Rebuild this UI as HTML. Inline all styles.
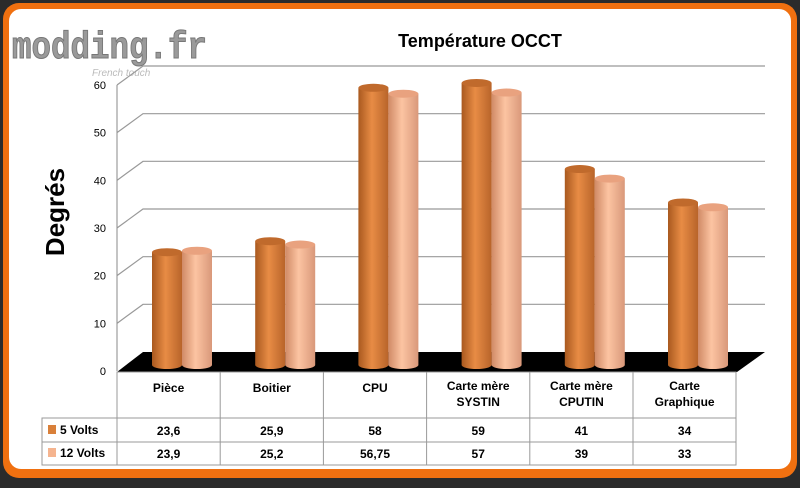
<!DOCTYPE html>
<html><head><meta charset="utf-8"><style>
body{margin:0;background:#2b2b2b;width:800px;height:483px;overflow:hidden;font-family:"Liberation Sans",sans-serif}
</style></head><body>
<svg width="800" height="483" xmlns="http://www.w3.org/2000/svg">
<defs>
<linearGradient id="g5" x1="0" x2="1"><stop offset="0" stop-color="#a9591f"/><stop offset="0.45" stop-color="#e88c45"/><stop offset="1" stop-color="#b8642a"/></linearGradient>
<linearGradient id="g12" x1="0" x2="1"><stop offset="0" stop-color="#d08a66"/><stop offset="0.45" stop-color="#fcc4a2"/><stop offset="1" stop-color="#d9987a"/></linearGradient>
</defs>
<rect x="3" y="3" width="794" height="475" rx="16" fill="#f07010"/>
<rect x="9" y="9" width="782" height="460" rx="12" fill="#ffffff"/>
<text x="12" y="58" font-size="38" font-weight="bold" fill="#9a9a9a" stroke="#777" stroke-width="1" font-family="Liberation Mono,monospace" textLength="195" lengthAdjust="spacingAndGlyphs">modding.fr</text>
<text x="92" y="76" font-size="10" font-style="italic" fill="#bbb">French touch</text>
<text x="480" y="47" font-size="18" font-weight="bold" text-anchor="middle" fill="#000">Température OCCT</text>
<text transform="translate(64,212) rotate(-90)" font-size="26" font-weight="bold" text-anchor="middle" fill="#000">Degrés</text>
<g id="grid"></g>
<g id="bars"></g>
<g id="table"></g>
</svg>
<script>
const categories=["Pièce","Boitier","CPU","Carte mère|SYSTIN","Carte mère|CPUTIN","Carte|Graphique"];
const series5=[23.6,25.9,58,59,41,34];
const series12=[23.9,25.2,56.75,57,39,33];
const labels5=["23,6","25,9","58","59","41","34"];
const labels12=["23,9","25,2","56,75","57","39","33"];
const ticks=[0,10,20,30,40,50,60];
const NS="http://www.w3.org/2000/svg";
function mk(t,a,p){const e=document.createElementNS(NS,t);for(const k in a)e.setAttribute(k,a[k]);p.appendChild(e);return e;}
const yTick=v=>371-v*(286/60);
const yBar=v=>365-v*4.78;
const colX=i=>117+i*103.2;
const grid=document.getElementById('grid'),bars=document.getElementById('bars'),table=document.getElementById('table');
mk('line',{x1:117,y1:85,x2:117,y2:371,stroke:'#888'},grid);
ticks.forEach(t=>{const y=yTick(t);
 if(t>0){const l=mk('polyline',{points:`117,${y} 143,${y-19} 765,${y-19}`,fill:'none',stroke:'#999','stroke-width':1.2},grid);
 }
 const tx=mk('text',{x:106,y:y+4,'font-size':11,'text-anchor':'end'},grid);tx.textContent=t;
 });
const fl=mk('polygon',{points:'117,372 143,352 765,352 737,372',fill:'#000'},grid);

function cyl(x,v,fill,top,name){const g=mk('g',{},bars);
 
 const w=30,yt=yBar(v),yb=365;
 mk('path',{d:`M${x},${yt} L${x},${yb} A${w/2},4 0 0 0 ${x+w},${yb} L${x+w},${yt} Z`,fill:fill},g);
 mk('ellipse',{cx:x+w/2,cy:yt,rx:w/2,ry:4,fill:top},g);}
categories.forEach((c,i)=>{const cx=colX(i)+52;
 cyl(cx-17,series5[i],'url(#g5)','#c06a2c','bar-5v-'+i);
 cyl(cx+13,series12[i],'url(#g12)','#e9a27f','bar-12v-'+i);});
const L='#999';
mk('rect',{x:117,y:372,width:619,height:93,fill:'#fff',stroke:L},table);
mk('rect',{x:42,y:418,width:75,height:47,fill:'#fff',stroke:L},table);
mk('line',{x1:42,y1:442,x2:736,y2:442,stroke:L},table);
mk('line',{x1:117,y1:418,x2:736,y2:418,stroke:L},table);
categories.forEach((c,i)=>{const x=colX(i);if(i>0)mk('line',{x1:x,y1:372,x2:x,y2:465,stroke:L},table);
 const cx=x+51.6,parts=c.split('|');
 parts.forEach((p,j)=>{const t=mk('text',{x:cx,y:(parts.length==1?392:390+j*16),'font-size':12,'font-weight':'bold','text-anchor':'middle'},table);t.textContent=p;
 });
 const a=mk('text',{x:cx,y:435,'font-size':12,'font-weight':'bold','text-anchor':'middle'},table);a.textContent=labels5[i];
 
 const b=mk('text',{x:cx,y:458,'font-size':12,'font-weight':'bold','text-anchor':'middle'},table);b.textContent=labels12[i];
 });
const k1=mk('rect',{x:48,y:425,width:8,height:9,fill:'#d9803a'},table);

const k2=mk('rect',{x:48,y:448,width:8,height:9,fill:'#f5b48f'},table);

const t1=mk('text',{x:60,y:434,'font-size':12,'font-weight':'bold'},table);t1.textContent='5 Volts';

const t2=mk('text',{x:60,y:457,'font-size':12,'font-weight':'bold'},table);t2.textContent='12 Volts';

</script>
</body></html>
